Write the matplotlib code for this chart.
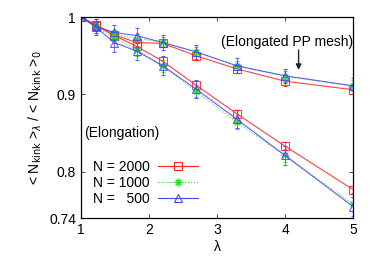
import numpy as np
import matplotlib.pyplot as plt

plt.rcParams['font.family'] = ['Liberation Sans', 'DejaVu Sans']

# lambda values
lam = [1, 1.22, 1.49, 1.82, 2.2, 2.69, 3.29, 4.0, 5.0]

# Elongated PP mesh (upper curves)
mesh_2000 = [1, 0.990, 0.977, 0.967, 0.966, 0.950, 0.933, 0.917, 0.906]
mesh_1000 = [1, 0.989, 0.978, 0.972, 0.968, 0.955, 0.937, 0.923, 0.911]
mesh_500 = [1, 0.988, 0.980, 0.976, 0.967, 0.955, 0.937, 0.924, 0.911]
mesh_err_2000 = [0.002, 0.004, 0.004, 0.005, 0.005, 0.005, 0.005, 0.006, 0.006]
mesh_err_1000 = [0.002, 0.005, 0.005, 0.006, 0.006, 0.006, 0.006, 0.007, 0.007]
mesh_err_500 = [0.003, 0.009, 0.010, 0.010, 0.010, 0.009, 0.010, 0.009, 0.010]

# Elongation (lower curves)
elo_2000 = [1, 0.989, 0.976, 0.962, 0.943, 0.912, 0.875, 0.833, 0.777]
elo_1000 = [1, 0.988, 0.973, 0.958, 0.937, 0.904, 0.864, 0.821, 0.758]
elo_500 = [1, 0.987, 0.967, 0.956, 0.937, 0.907, 0.868, 0.821, 0.755]
elo_err_2000 = [0.002, 0.004, 0.004, 0.005, 0.005, 0.005, 0.005, 0.005, 0.005]
elo_err_1000 = [0.002, 0.006, 0.007, 0.008, 0.008, 0.008, 0.009, 0.009, 0.009]
elo_err_500 = [0.003, 0.010, 0.012, 0.012, 0.012, 0.012, 0.012, 0.012, 0.012]

labels = ['N = 2000', 'N = 1000', 'N =   500']
colors = ['#ff2020', '#22dd22', '#4444ff']
markers = ['s', (8, 2, 0), '^']
styles = ['-', ':', '-']

fig = plt.figure(figsize=(3.8, 2.66), dpi=100)
ax = fig.add_axes([0.213, 0.18, 0.716, 0.756])

mesh = [(mesh_2000, mesh_err_2000), (mesh_1000, mesh_err_1000), (mesh_500, mesh_err_500)]
elo = [(elo_2000, elo_err_2000), (elo_1000, elo_err_1000), (elo_500, elo_err_500)]

handles = []
for i in range(3):
    for (y, e) in (mesh[i], elo[i]):
        ax.errorbar(lam, y, yerr=e, color=colors[i], ls=styles[i], lw=0.8,
                    marker=markers[i], ms=5.5, mfc='none', mew=0.8,
                    elinewidth=0.6, capsize=1.5, capthick=0.6, alpha=0.85)
    h, = ax.plot([], [], color=colors[i], ls=styles[i], lw=0.8, marker=markers[i],
                 ms=5.5, mfc='none', mew=0.8, label=labels[i])
    handles.append(h)

leg = ax.legend(handles=handles, loc='lower left', bbox_to_anchor=(0.0, 0.0),
                markerfirst=False, frameon=False, fontsize=10, handlelength=2.9,
                labelspacing=0.15, handletextpad=0.6, borderaxespad=0.45)
for t in leg.get_texts():
    t.set_ha('right')

ax.text(1.04, 0.85, '(Elongation)', fontsize=10, va='center', ha='left')
ax.text(4.03, 0.968, '(Elongated PP mesh)', fontsize=10, va='center', ha='center')
ax.annotate('', xy=(4.2, 0.928), xytext=(4.2, 0.961),
            arrowprops=dict(arrowstyle='-|>', color='#222222', lw=1, mutation_scale=8))

ax.set_xlim(1, 5)
ax.set_ylim(0.74, 1.0)
ax.set_xticks([1, 2, 3, 4, 5])
ax.set_xticklabels(['1', '2', '3', '4', '5'])
ax.set_yticks([0.74, 0.8, 0.9, 1.0])
ax.set_yticklabels(['0.74', '0.8', '0.9', '1'])
ax.tick_params(direction='in', top=True, right=True, length=3, width=0.5, labelsize=10)
for s in ax.spines.values():
    s.set_linewidth(0.9)

ax.set_xlabel('λ', fontsize=10, labelpad=2)
ax.set_ylabel(r'< N$_{\mathrm{kink}}$ >$_{\lambda}$ / < N$_{\mathrm{kink}}$ >$_0$', fontsize=10)

fig.savefig('out.png', dpi=100)
